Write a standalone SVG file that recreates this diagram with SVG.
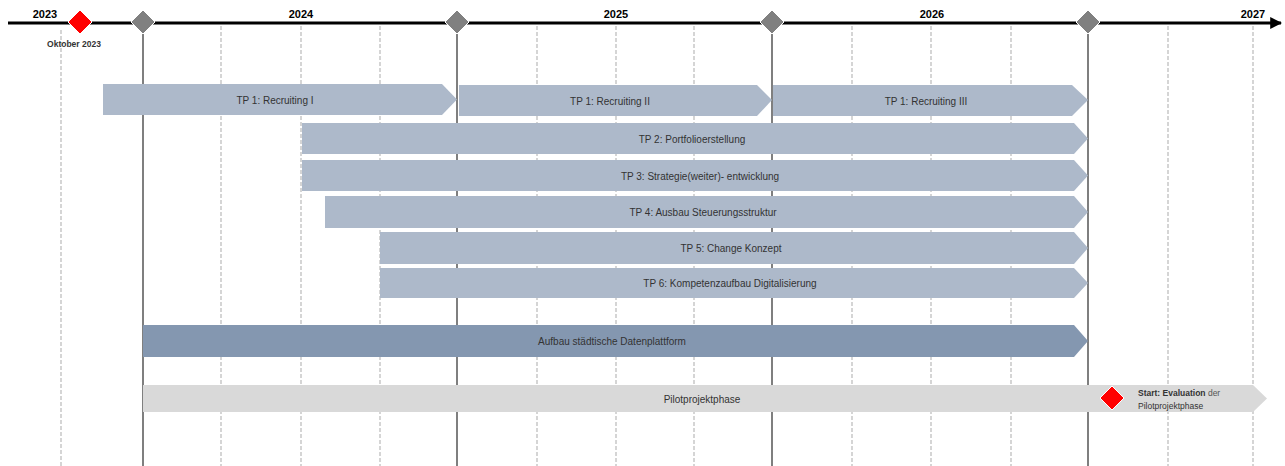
<svg xmlns="http://www.w3.org/2000/svg" width="1285" height="466" viewBox="0 0 1285 466">
  <style>
    .grid { stroke: #c8c8c8; stroke-width: 1.5; stroke-dasharray: 4 2; fill: none; }
    .mile { stroke: #7f7f7f; stroke-width: 2; fill: none; }
    .bar { fill: #adb9ca; }
    .dark { fill: #8497b0; }
    .pilot { fill: #d9d9d9; }
    .lbl { font-family: "Liberation Sans", Arial, sans-serif; font-size: 10px; fill: #333333; text-anchor: middle; dominant-baseline: central; }
    .year { font-family: "Liberation Sans", Arial, sans-serif; font-size: 11px; font-weight: bold; fill: #000; text-anchor: middle; }
    .small { font-family: "Liberation Sans", Arial, sans-serif; font-size: 8.5px; fill: #333333; }
  </style>
  <defs>
    <marker id="arr" viewBox="0 0 10 10" refX="9" refY="5" markerWidth="4" markerHeight="4" orient="auto">
      <path d="M0,0 L10,5 L0,10 Z" fill="#000"/>
    </marker>
  </defs>
  <rect width="1285" height="466" fill="#ffffff"/>

  <g id="connectors">
    <line class="grid" x1="61" y1="30" x2="61" y2="466"/>
    <line class="grid" x1="221" y1="26" x2="221" y2="466"/>
    <line class="grid" x1="301" y1="26" x2="301" y2="466"/>
    <line class="grid" x1="380" y1="26" x2="380" y2="466"/>
    <line class="grid" x1="537" y1="26" x2="537" y2="466"/>
    <line class="grid" x1="616" y1="26" x2="616" y2="466"/>
    <line class="grid" x1="694" y1="26" x2="694" y2="466"/>
    <line class="grid" x1="852" y1="26" x2="852" y2="466"/>
    <line class="grid" x1="931" y1="26" x2="931" y2="466"/>
    <line class="grid" x1="1011" y1="26" x2="1011" y2="466"/>
    <line class="grid" x1="1168" y1="26" x2="1168" y2="466"/>
    <line class="grid" x1="1253" y1="26" x2="1253" y2="466"/>
    <line class="mile" x1="143" y1="34" x2="143" y2="466"/>
    <line class="mile" x1="457" y1="34" x2="457" y2="466"/>
    <line class="mile" x1="772" y1="34" x2="772" y2="466"/>
    <line class="mile" x1="1088" y1="34" x2="1088" y2="466"/>
    <line x1="8" y1="23" x2="1281" y2="23" stroke="#000" stroke-width="3" marker-end="url(#arr)"/>
  </g>

  <g id="years">
    <text class="year" x="45" y="18">2023</text>
    <text class="year" x="301" y="18">2024</text>
    <text class="year" x="616" y="18">2025</text>
    <text class="year" x="932" y="18">2026</text>
    <text class="year" x="1253" y="18">2027</text>
  </g>

  <g id="milestone-oktober">
    <path d="M80,10 L92,22 L80,34 L68,22 Z" fill="#ff0000" stroke="#ffffff" stroke-width="1"/>
    <text class="small" x="74" y="47" text-anchor="middle" font-weight="bold" fill="#000">Oktober 2023</text>
  </g>
  <g id="milestone-1"><path d="M143,10 L155,22 L143,34 L131,22 Z" fill="#808080" stroke="#ffffff" stroke-width="1"/></g>
  <g id="milestone-2"><path d="M457,10 L469,22 L457,34 L445,22 Z" fill="#808080" stroke="#ffffff" stroke-width="1"/></g>
  <g id="milestone-3"><path d="M772,10 L784,22 L772,34 L760,22 Z" fill="#808080" stroke="#ffffff" stroke-width="1"/></g>
  <g id="milestone-4"><path d="M1088,10 L1100,22 L1088,34 L1076,22 Z" fill="#808080" stroke="#ffffff" stroke-width="1"/></g>

  <g id="tp1-recruiting-1">
    <path class="bar" d="M103,84 H442 L457,99.5 L442,115 H103 Z"/>
    <text class="lbl" x="275" y="100">TP 1: Recruiting I</text>
  </g>
  <g id="tp1-recruiting-2">
    <path class="bar" d="M459,85 H757 L772,100 L757,116 H459 Z"/>
    <text class="lbl" x="610" y="101">TP 1: Recruiting II</text>
  </g>
  <g id="tp1-recruiting-3">
    <path class="bar" d="M773,85 H1072 L1088,100 L1072,116 H773 Z"/>
    <text class="lbl" x="926" y="101">TP 1: Recruiting III</text>
  </g>
  <g id="tp2">
    <path class="bar" d="M302,123 H1074 L1088,138.5 L1074,154 H302 Z"/>
    <text class="lbl" x="692" y="139">TP 2: Portfolioerstellung</text>
  </g>
  <g id="tp3">
    <path class="bar" d="M302,160 H1074 L1088,175.5 L1074,191 H302 Z"/>
    <text class="lbl" x="700" y="176">TP 3: Strategie(weiter)- entwicklung</text>
  </g>
  <g id="tp4">
    <path class="bar" d="M325,196 H1074 L1088,212 L1074,228 H325 Z"/>
    <text class="lbl" x="703" y="212">TP 4: Ausbau Steuerungsstruktur</text>
  </g>
  <g id="tp5">
    <path class="bar" d="M380,232 H1074 L1088,248 L1074,264 H380 Z"/>
    <text class="lbl" x="731" y="248">TP 5: Change Konzept</text>
  </g>
  <g id="tp6">
    <path class="bar" d="M380,268 H1074 L1088,283 L1074,298 H380 Z"/>
    <text class="lbl" x="730" y="283">TP 6: Kompetenzaufbau Digitalisierung</text>
  </g>
  <g id="datenplattform">
    <path class="dark" d="M143,325 H1074 L1088,341 L1074,357 H143 Z"/>
    <text class="lbl" x="612" y="341" fill="#222">Aufbau städtische Datenplattform</text>
  </g>
  <g id="pilotprojektphase">
    <path class="pilot" d="M143,385 H1253 L1267,398.5 L1253,412 H143 Z"/>
    <text class="lbl" x="702" y="399">Pilotprojektphase</text>
  </g>
  <g id="evaluation">
    <path d="M1112,386 L1124,398 L1112,410 L1100,398 Z" fill="#ff0000" stroke="#ffffff" stroke-width="1"/>
    <text class="small" x="1138" y="396"><tspan font-weight="bold">Start: Evaluation</tspan><tspan fill="#555"> der</tspan></text>
    <text class="small" x="1138" y="409" fill="#666">Pilotprojektphase</text>
  </g>
</svg>
